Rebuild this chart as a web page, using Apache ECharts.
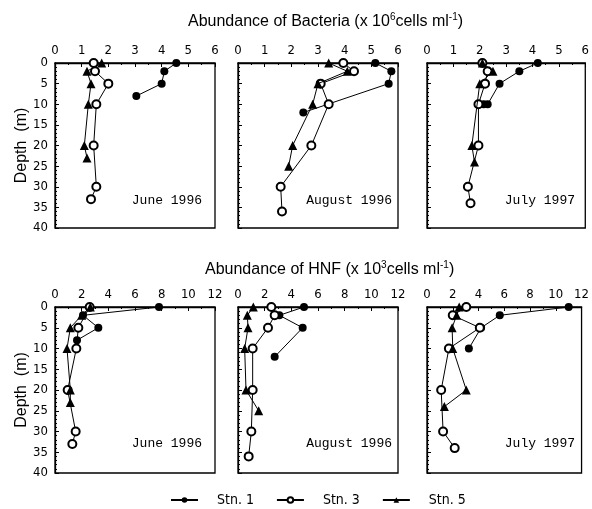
<!DOCTYPE html>
<html>
<head>
<meta charset="utf-8">
<script src="https://cdn.jsdelivr.net/npm/echarts@6/dist/echarts.min.js"></script>
<style>
html,body{margin:0;padding:0;background:#fff}
#main{width:592px;height:509px}
</style>
</head>
<body>
<div id="main"></div>
<script>
// 数据: [数值, 深度(m)]
// Bacteria (x10^6 cells/ml)
var bacJun96Stn1 = [[4.55,0],[4.1,2],[4.0,5],[3.05,8]];
var bacJun96Stn3 = [[1.45,0],[1.5,2],[2.0,5],[1.55,10],[1.45,20],[1.55,30],[1.35,33]];
var bacJun96Stn5 = [[1.75,0],[1.2,2],[1.35,5],[1.25,10],[1.1,20],[1.2,23]];

var bacAug96Stn1 = [[5.15,0],[5.75,2],[5.65,5],[2.45,12]];
var bacAug96Stn3 = [[3.95,0],[4.35,2],[3.1,5],[3.4,10],[2.75,20],[1.6,30],[1.65,36]];
var bacAug96Stn5 = [[3.4,0],[4.1,2],[3.0,5],[2.8,10],[2.05,20],[1.9,25]];

var bacJul97Stn1 = [[4.2,0],[3.5,2],[2.75,5],[2.3,10],[2.15,10]];
var bacJul97Stn3 = [[2.1,0],[2.3,2],[2.2,5],[1.95,10],[1.95,20],[1.55,30],[1.65,34]];
var bacJul97Stn5 = [[2.1,0],[2.5,2],[2.0,5],[1.7,20],[1.8,24]];

// HNF (x10^3 cells/ml)
var hnfJun96Stn1 = [[7.8,0],[2.1,2],[3.25,5],[1.65,8]];
var hnfJun96Stn3 = [[2.6,0],[1.75,5],[1.6,10],[0.95,20],[1.55,30],[1.3,33]];
var hnfJun96Stn5 = [[2.65,0],[2.0,2],[1.15,5],[0.9,10],[1.15,20],[1.15,23]];

var hnfAug96Stn1 = [[4.95,0],[3.1,2],[4.85,5],[2.75,12]];
var hnfAug96Stn3 = [[2.5,0],[2.75,2],[2.25,5],[1.1,10],[1.1,20],[1.0,30],[0.8,36]];
var hnfAug96Stn5 = [[1.15,0],[0.7,2],[0.75,5],[0.5,10],[0.6,20],[1.55,25]];

var hnfJul97Stn1 = [[11.0,0],[5.65,2],[4.2,5],[3.25,10]];
var hnfJul97Stn3 = [[3.05,0],[2.0,2],[4.1,5],[1.7,10],[1.1,20],[1.25,30],[2.15,34]];
var hnfJul97Stn5 = [[2.5,0],[2.3,2],[1.95,5],[2.0,10],[3.05,20],[1.35,24]];

var stations = ['Stn. 1', 'Stn. 3', 'Stn. 5'];
var panelNames = ['June 1996', 'August 1996', 'July 1997'];
var panelData = [
    [bacJun96Stn1, bacJun96Stn3, bacJun96Stn5],
    [bacAug96Stn1, bacAug96Stn3, bacAug96Stn5],
    [bacJul97Stn1, bacJul97Stn3, bacJul97Stn5],
    [hnfJun96Stn1, hnfJun96Stn3, hnfJun96Stn5],
    [hnfAug96Stn1, hnfAug96Stn3, hnfAug96Stn5],
    [hnfJul97Stn1, hnfJul97Stn3, hnfJul97Stn5]
];
var xMax = [6, 12];
var xInterval = [1, 2];
var depthMax = 40;
var depthInterval = 5;

var chart = echarts.init(document.getElementById('main'));

var colLeft = [55, 238, 427];
var rowTop = [63, 307];
var tickFont = '"Liberation Sans Narrow", "DejaVu Sans Condensed", "Liberation Sans", sans-serif';
var monoFont = '"Liberation Mono", "DejaVu Sans Mono", monospace';
var sansFont = '"Liberation Sans", Arial, sans-serif';
var labelRight = [390, 200, 17];

var grids = [], xAxes = [], yAxes = [], series = [], graphics = [];
var markers = [
    {symbol: 'circle', size: 8},
    {symbol: 'emptyCircle', size: 8},
    {symbol: 'triangle', size: 9}
];

for (var r = 0; r < 2; r++) {
    for (var c = 0; c < 3; c++) {
        var p = r * 3 + c;
        grids.push({
            left: colLeft[c], top: rowTop[r], width: 160, height: r == 0 ? 165 : 166,
            show: true, borderColor: '#000', borderWidth: 1.3, backgroundColor: 'transparent'
        });
        xAxes.push({
            gridIndex: p, type: 'value', position: 'top',
            min: 0, max: xMax[r], interval: xInterval[r],
            axisLine: {show: true, lineStyle: {color: '#000', width: 1.3}},
            axisTick: {show: true, inside: true, length: 4, lineStyle: {color: '#000'}},
            minorTick: {show: true, splitNumber: 2, length: 2, lineStyle: {color: '#000'}},
            splitLine: {show: false},
            axisLabel: {color: '#000', fontFamily: tickFont, fontSize: 13, margin: 6}
        });
        yAxes.push({
            gridIndex: p, type: 'value', inverse: true,
            min: 0, max: depthMax, interval: depthInterval,
            name: c == 0 ? 'Depth  (m)' : '',
            nameLocation: 'middle', nameGap: 24, nameRotate: 90,
            nameTextStyle: {color: '#000', fontSize: 16, fontFamily: sansFont},
            axisLine: {show: true, lineStyle: {color: '#000', width: 1.3}},
            axisTick: {show: true, inside: true, length: 4, lineStyle: {color: '#000'}},
            minorTick: {show: true, splitNumber: 5, length: 2, lineStyle: {color: '#000'}},
            splitLine: {show: false},
            axisLabel: {show: c == 0, color: '#000', fontFamily: tickFont, fontSize: 13, margin: 7}
        });
        for (var s = 0; s < 3; s++) {
            series.push({
                name: stations[s], type: 'line',
                xAxisIndex: p, yAxisIndex: p,
                data: panelData[p][s],
                symbol: markers[s].symbol, symbolSize: markers[s].size,
                itemStyle: {color: '#000', borderWidth: 1},
                lineStyle: {color: '#000', width: 1},
                z: 2 + s,
                silent: true
            });
        }
        graphics.push({
            type: 'text', right: labelRight[c], top: r == 0 ? 194 : 437,
            style: {text: panelNames[c], font: '13px ' + monoFont, fill: '#000'}
        });
    }
}

var titleRich = {
    sup: {fontSize: 10, verticalAlign: 'top', lineHeight: 10, color: '#000', fontFamily: sansFont}
};

var option = {
    animation: false,
    backgroundColor: '#fff',
    title: [{
        text: 'Abundance of Bacteria (x 10{sup|6}cells ml{sup|-1})',
        left: 188, top: 12, padding: 0,
        textStyle: {fontSize: 16, fontWeight: 'normal', color: '#000', lineHeight: 20,
            fontFamily: sansFont, rich: titleRich}
    }, {
        text: 'Abundance of HNF (x 10{sup|3}cells ml{sup|-1})',
        left: 205, top: 260, padding: 0,
        textStyle: {fontSize: 16, fontWeight: 'normal', color: '#000', lineHeight: 20,
            fontFamily: sansFont, rich: titleRich}
    }],
    legend: {
        data: stations,
        left: 170, top: 493, padding: 0,
        itemWidth: 27, itemHeight: 7, itemGap: 22,
        textStyle: {color: '#000', fontSize: 14, fontFamily: tickFont, padding: [0, 0, 0, 14]}
    },
    grid: grids,
    xAxis: xAxes,
    yAxis: yAxes,
    series: series,
    graphic: graphics
};

chart.setOption(option);
</script>
</body>
</html>
